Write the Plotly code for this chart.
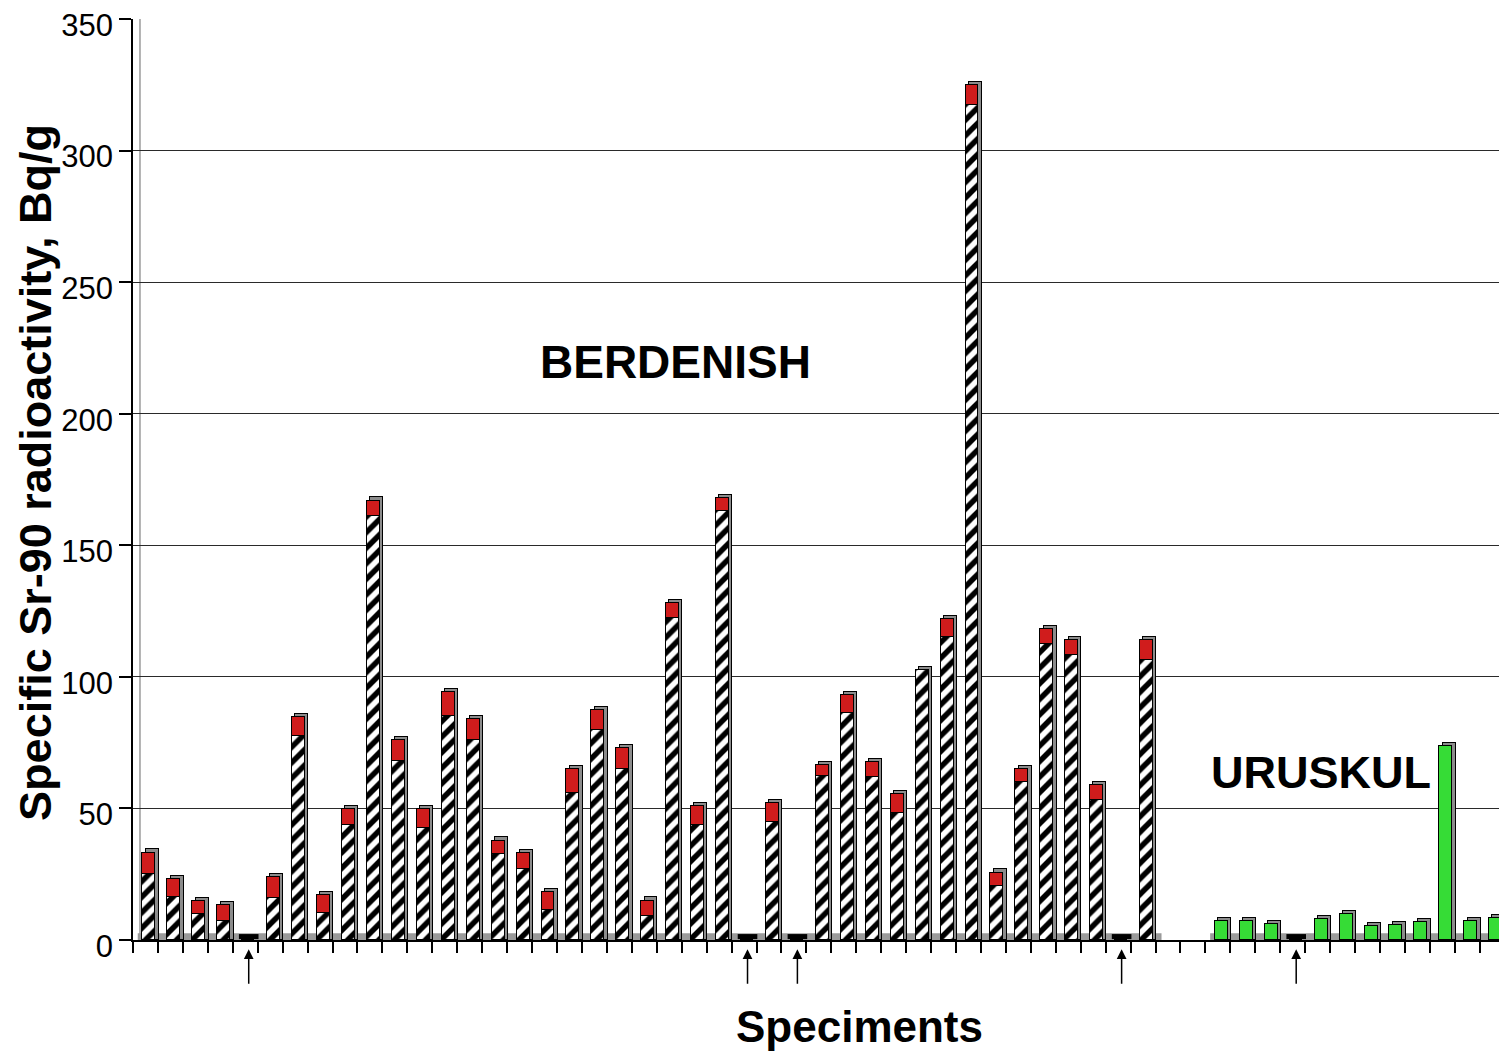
import plotly.graph_objects as go

# ---------------- data ----------------
berdenish_total = [33.2, 23.3, 14.9, 13.4, 0, 24, 84.7, 17.2, 49.6, 167,
                   76, 49.6, 94.3, 84, 37.8, 33, 18.3, 65, 87.4, 73,
                   15, 128, 50.8, 168, 0, 52, 0, 66.4, 93, 67.5,
                   55.3, 102.6, 122, 324.8, 25.6, 65, 118.3, 114, 59, 0, 114]
berdenish_red = [8, 7, 5, 6, 0, 8, 7, 7, 6, 6,
                 8, 7, 9, 8, 5, 6, 7, 9, 7.6, 8,
                 6, 5.5, 7, 5, 0, 7, 0, 4, 6.6, 5.7,
                 7, 0, 7, 7.6, 5, 5, 5.7, 5.7, 5.7, 0, 7.6]
uruskul_values = [7.3, 7.3, 6.1, 0, 8, 9.9, 5.3, 5.7, 6.9, 73.7, 7.3, 8.4]
y_ticks = [0, 50, 100, 150, 200, 250, 300, 350]
y_title = "Specific Sr-90 radioactivity, Bq/g"
x_title = "Speciments"
group_labels = ["BERDENISH", "URUSKUL"]

# ---------------- layout helpers ----------------
GAP = 2
bx = list(range(1, len(berdenish_total) + 1))
ux0 = len(berdenish_total) + GAP + 1
ux = list(range(ux0, ux0 + len(uruskul_values)))
berdenish_base = [t - r for t, r in zip(berdenish_total, berdenish_red)]

# page body has an 8px margin: compensate so the picture lands where intended
W, H = 1499, 1044
ML, MT, MB = 125, 11, 112
plot_w = W - ML
slot_px = 24.94
x_lo = 0.36
x_hi = x_lo + plot_w / slot_px
BW = 0.52

FONT = "Liberation Sans, Arial, sans-serif"
fig = go.Figure()

# 3D-like side shadows (on base axis, drawn beneath the bars)
all_x = bx + ux
all_v = berdenish_total + uruskul_values
sx = [x for x, v in zip(all_x, all_v) if v > 0]
sv = [v + 1.2 for v in all_v if v > 0]
fig.add_trace(go.Bar(
    x=sx, y=sv, width=BW, offset=-BW / 2 + 0.13,
    marker=dict(color="#8c8c8c", line=dict(color="black", width=1)),
    showlegend=False, hoverinfo="skip", xaxis="x", yaxis="y"))

fig.add_trace(go.Bar(
    x=bx, y=berdenish_base, width=BW,
    marker=dict(color="white", line=dict(color="black", width=1.5),
                pattern=dict(shape="/", fgcolor="black", bgcolor="white",
                             size=11, solidity=0.5)),
    showlegend=False, hoverinfo="skip", xaxis="x2", yaxis="y"))
fig.add_trace(go.Bar(
    x=bx, y=berdenish_red, width=BW,
    marker=dict(color="#d01c1c", line=dict(color="black", width=1.5)),
    showlegend=False, hoverinfo="skip", xaxis="x2", yaxis="y"))
fig.add_trace(go.Bar(
    x=ux, y=uruskul_values, width=BW,
    marker=dict(color="#36dc36", line=dict(color="black", width=1.5)),
    showlegend=False, hoverinfo="skip", xaxis="x2", yaxis="y"))

# zero-value stubs
zx = [x for x, v in zip(bx, berdenish_total) if v == 0] + \
     [x for x, v in zip(ux, uruskul_values) if v == 0]
fig.add_trace(go.Scatter(
    x=zx, y=[1.3] * len(zx), mode="markers",
    marker=dict(symbol="line-ew-open", size=14, color="black",
                line=dict(color="black", width=5)),
    showlegend=False, hoverinfo="skip", cliponaxis=False, xaxis="x2", yaxis="y"))

shapes = []
# grey floors
for xs in (bx, ux):
    shapes.append(dict(type="rect", xref="x", yref="y", x0=xs[0] - 0.45, x1=xs[-1] + 0.6,
                       y0=0, y1=2.6, fillcolor="#9a9a9a", line=dict(width=0), layer="below"))
# back wall left edge
shapes.append(dict(type="line", xref="x", yref="paper", x0=x_lo + 0.28, x1=x_lo + 0.28,
                   y0=0.005, y1=1.0, line=dict(color="#9a9a9a", width=1.5), layer="below"))

annotations = []
for x in zx:
    annotations.append(dict(x=x, xref="x", y=-0.01, yref="paper", text="",
                            showarrow=True, ax=0, ay=36, arrowhead=2, arrowsize=1.3,
                            arrowwidth=1.5, arrowcolor="black"))
annotations.append(dict(x=-0.0715, xref="paper", y=0.508, yref="paper", text=y_title,
                        textangle=-90, showarrow=False, xanchor="center", yanchor="middle",
                        font=dict(family=FONT, size=45, color="black", weight="bold")))
annotations.append(dict(x=0.529, xref="paper", y=-0.094, yref="paper", text=x_title,
                        showarrow=False, xanchor="center", yanchor="middle",
                        font=dict(family=FONT, size=44, color="black", weight="bold")))
annotations.append(dict(x=22.1, xref="x", y=219.5, yref="y", text=group_labels[0],
                        showarrow=False, xanchor="center", yanchor="middle",
                        font=dict(family=FONT, size=46, color="black", weight="bold")))
annotations.append(dict(x=48.0, xref="x", y=63.7, yref="y", text=group_labels[1],
                        showarrow=False, xanchor="center", yanchor="middle",
                        font=dict(family=FONT, size=45, color="black", weight="bold")))

fig.update_layout(
    template="none",
    width=W, height=H, barmode="stack", bargap=0,
    margin=dict(l=ML, r=0, t=MT, b=MB, autoexpand=False),
    paper_bgcolor="white", plot_bgcolor="white",
    shapes=shapes, annotations=annotations,
    xaxis=dict(range=[x_lo, x_hi], showgrid=False, zeroline=False, automargin=False,
               showline=True, linecolor="black", linewidth=1.5,
               tickmode="array", tickvals=[n - 0.64 for n in range(1, 60)],
               ticktext=[""] * 59, ticks="outside", ticklen=11, tickwidth=1.5,
               tickcolor="black"),
    xaxis2=dict(range=[x_lo, x_hi], overlaying="x", matches="x", visible=False,
                automargin=False),
    yaxis=dict(range=[0, 350], tickmode="array", tickvals=y_ticks, automargin=False,
               ticktext=[str(v) for v in y_ticks],
               showgrid=True, gridcolor="#2a2a2a", gridwidth=1, zeroline=False,
               showline=True, linecolor="black", linewidth=1.5,
               ticks="outside", ticklen=12, tickwidth=1.5, tickcolor="black",
               ticklabeloverflow="allow", ticklabelshift=6,
               tickfont=dict(family=FONT, size=31, color="black")),
)

fig.write_html("out.html")
